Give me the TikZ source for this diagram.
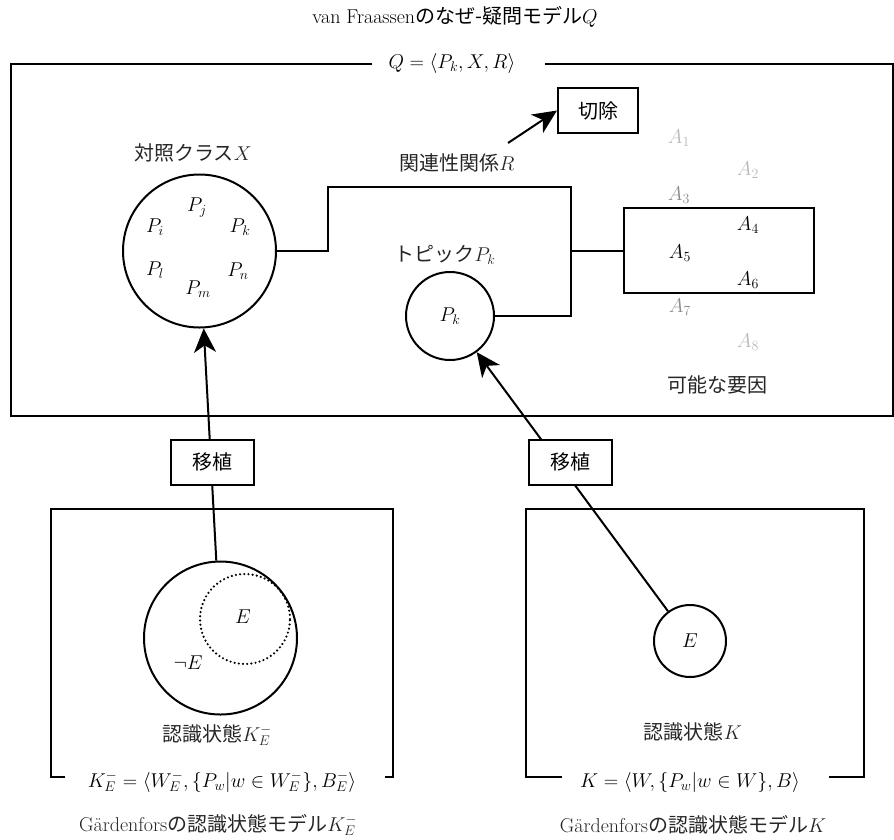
\RequirePackage{fix-cm}
\documentclass[tikz,border=0pt]{standalone}
\usepackage{fontspec}
\newfontfamily\jp{Noto Sans CJK JP}
\usetikzlibrary{arrows.meta}
\begin{document}
\begin{tikzpicture}[x=1pt,y=-1pt,
  every node/.style={font=\fontsize{20}{24}\selectfont},
  ln/.style={line width=2pt},
  circ/.style={draw,circle,line width=2pt,inner sep=0pt},
  boxnode/.style={draw,line width=2pt,fill=white,inner sep=0pt,minimum width=#1,minimum height=45pt},
  arr/.style={line width=2pt,-{Stealth[length=24pt,width=22pt,inset=7pt]}},
  jpt/.style={text=black!85},
  faint/.style={text=black!28},
  mid/.style={text=black!45}]
\useasboundingbox (0,0) rectangle (894,839);

% title
\node (title) at (455,17) {van Fraassen{\jp のなぜ-疑問モデル}$Q$};

% outer frame
\coordinate (fgl) at (372,64);
\coordinate (fTL) at (11,64);
\coordinate (fBR) at (893,416);
\coordinate (fgr) at (545,64);
\draw[ln] (fgl) -- (fTL) |- (fBR) |- (fgr);
\node (Qlab) at (452,63) {$Q=\langle P_k, X, R\rangle$};

% contrast class X
\node[jpt] (Xlab) at (193,153) {{\jp 対照クラス}$X$};
\node[circ,minimum size=153pt] (X) at (199.5,251) {};
\node (Pj) at (197,208) {$P_j$};
\node (Pi) at (155,227) {$P_i$};
\node (Pkx) at (240,227) {$P_k$};
\node (Pl) at (155,270) {$P_l$};
\node (Pn) at (238,271) {$P_n$};
\node (Pm) at (198,289) {$P_m$};

% relevance relation
\node[jpt] (Rlab) at (457,163) {{\jp 関連性関係}$R$};
\node[boxnode=80pt] (cut) at (598,110.5) {\jp 切除};
\coordinate (Rtail) at (508,143);
\draw[arr] (Rtail) -- (cut.west);

% topic
\node[jpt] (Tlab) at (445,255) {{\jp トピック}$P_k$};
\node[circ,minimum size=88pt] (Pk) at (450,316) {$P_k$};

% possible factors
\node[draw,line width=2pt,minimum width=190pt,minimum height=85pt,inner sep=0pt] (Abox) at (719,250.5) {};
\node[faint] (A1) at (679,138) {$A_1$};
\node[faint] (A2) at (748,170) {$A_2$};
\node[mid] (A3) at (679,195) {$A_3$};
\node (A4) at (748,225) {$A_4$};
\node (A5) at (680,253) {$A_5$};
\node (A6) at (748,280) {$A_6$};
\node[mid] (A7) at (680,307) {$A_7$};
\node[faint] (A8) at (748,342) {$A_8$};
\node[jpt] (Flab) at (717,385) {\jp 可能な要因};

% relation connectors
\coordinate (r1) at (328,187);
\coordinate (r2) at (571,187);
\draw[ln] (X.east) -| (r1) -- (r2) |- (Pk.east);
\draw[ln] (Abox.west) -- (Abox.west -| r2);

% left bottom box
\coordinate (lbA) at (65,777);
\coordinate (lbTL) at (51,509);
\coordinate (lbBR) at (393,777);
\coordinate (lbB) at (385,777);
\draw[ln] (lbA) -| (lbTL) -| (lbBR) -- (lbB);
\node[circ,minimum size=153pt] (KL) at (220.5,638) {};
\node[draw,circle,line width=2.4pt,inner sep=0pt,minimum size=90pt,dash pattern=on 0pt off 4.2pt,line cap=round] (EL) at (245,619) {};
\node (ELlab) at (243,617) {$E$};
\node (nEL) at (188,663) {$\neg E$};
\node[jpt] (KLlab) at (217,735) {{\jp 認識状態}$K_E^-$};
\node (KLform) at (222,782) {$K_E^- = \langle W_E^-, \{P_w|w\in W_E^-\}, B_E^-\rangle$};
\node[jpt] (KLcap) at (218,825) {G\"ardenfors{\jp の認識状態モデル}$K_E^-$};

% right bottom box
\coordinate (rbA) at (562,777);
\coordinate (rbTL) at (526,509);
\coordinate (rbBR) at (864,777);
\coordinate (rbB) at (829,777);
\draw[ln] (rbA) -| (rbTL) -| (rbBR) -- (rbB);
\node[circ,minimum size=72pt] (KR) at (690,641) {$E$};
\node[jpt] (KRlab) at (693,732) {{\jp 認識状態}$K$};
\node (KRform) at (690,782) {$K = \langle W, \{P_w|w\in W\}, B\rangle$};
\node[jpt] (KRcap) at (693,825) {G\"ardenfors{\jp の認識状態モデル}$K$};

% transplant arrows
\draw[arr] (KL) -- (X);
\draw[arr] (KR) -- (Pk);
\node[boxnode=83pt] (mvL) at (212.5,462) {\jp 移植};
\node[boxnode=83pt] (mvR) at (570,462) {\jp 移植};
\end{tikzpicture}
\end{document}
